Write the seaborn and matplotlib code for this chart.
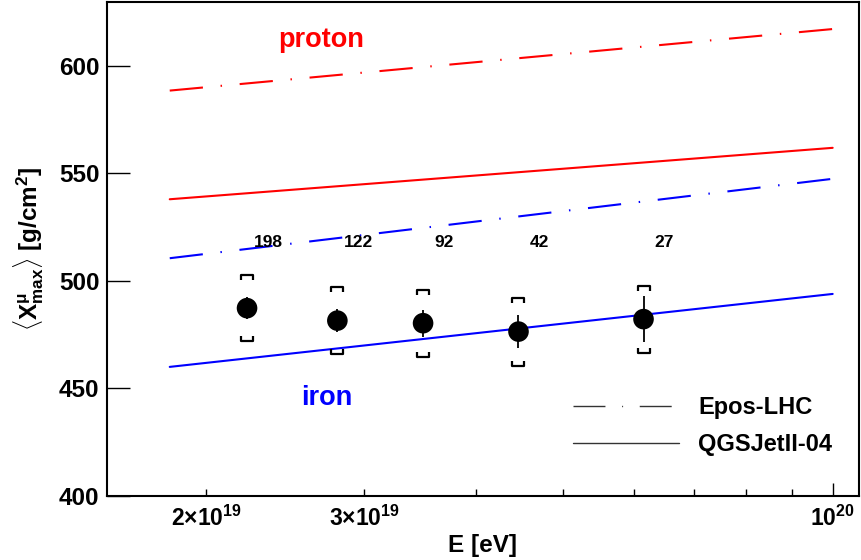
import numpy as np
import pandas as pd
import matplotlib
matplotlib.use("Agg")
import matplotlib.pyplot as plt
import seaborn as sns
from matplotlib.path import Path
from matplotlib.lines import Line2D
from matplotlib.ticker import FixedLocator, FixedFormatter

# ---------------- data ----------------
energy = [2.22e19, 2.80e19, 3.49e19, 4.46e19, 6.15e19]
xmax_mu = [487.3, 481.5, 480.3, 476.4, 482.2]
stat_err = [5.1, 5.3, 6.3, 7.5, 10.8]
sys_up = [502.7, 497.3, 495.5, 491.9, 497.6]
sys_low = [472.1, 466.0, 464.5, 460.4, 466.4]
n_events = [198, 122, 92, 42, 27]
count_y = 517.6

line_energy = [1.82e19, 1.0e20]
proton_epos = [588.4, 617.0]
proton_qgs = [537.9, 561.8]
iron_epos = [510.5, 547.4]
iron_qgs = [460.0, 493.9]

x_major = [1e20]
x_minor = [2e19, 3e19, 4e19, 5e19, 6e19, 7e19, 8e19, 9e19]
x_minor_labels = [r"$2{\times}10^{19}$", r"$3{\times}10^{19}$", "", "", "", "", "", ""]
x_major_labels = [r"$10^{20}$"]
y_ticks = [400, 450, 500, 550, 600]

# ---------------- style ----------------
sns.set_style("white")
plt.rcParams["font.family"] = ["Liberation Sans", "DejaVu Sans"]
plt.rcParams["font.weight"] = "bold"
plt.rcParams["mathtext.fontset"] = "custom"
plt.rcParams["mathtext.rm"] = "Liberation Sans:bold"
plt.rcParams["mathtext.bf"] = "Liberation Sans:bold"
plt.rcParams["mathtext.it"] = "Liberation Sans:bold"
plt.rcParams["mathtext.sf"] = "Liberation Sans:bold"
for k in ["text.color", "axes.labelcolor", "xtick.color", "ytick.color",
          "axes.edgecolor"]:
    plt.rcParams[k] = "black"

fig = plt.figure(figsize=(8.62, 5.60), dpi=100)
ax = fig.add_axes([107 / 862, 64 / 560, 752 / 862, 494.5 / 560])

rows = []
for comp, model, vals in [("proton", "Epos-LHC", proton_epos),
                          ("proton", "QGSJetII-04", proton_qgs),
                          ("iron", "Epos-LHC", iron_epos),
                          ("iron", "QGSJetII-04", iron_qgs)]:
    for e, v in zip(line_energy, vals):
        rows.append({"E": e, "X": v, "comp": comp, "model": model,
                     "key": comp + model})
df = pd.DataFrame(rows)

epos_dash = (16, 8.5, 0.7, 8.5)
sns.lineplot(data=df, x="E", y="X", hue="comp", style="model", units="key",
             estimator=None, palette={"proton": "#ff0000", "iron": "#0000ff"},
             dashes={"Epos-LHC": epos_dash, "QGSJetII-04": ""},
             linewidth=1.5, legend=False, ax=ax, zorder=2)

# statistical errors
ax.errorbar(energy, xmax_mu, yerr=stat_err, fmt="none", ecolor="black",
            elinewidth=1.3, capsize=0, zorder=3)

# systematic brackets as markers
top_bracket = Path([(-1, -0.8), (-1, 0), (1, 0), (1, -0.8)],
                   [Path.MOVETO, Path.LINETO, Path.LINETO, Path.LINETO])
bot_bracket = Path([(-1, 0.8), (-1, 0), (1, 0), (1, 0.8)],
                   [Path.MOVETO, Path.LINETO, Path.LINETO, Path.LINETO])
ax.plot(energy, sys_up, linestyle="none", marker=top_bracket, markersize=8.5,
        markerfacecolor="none", markeredgecolor="black", markeredgewidth=1.6,
        zorder=3)
ax.plot(energy, sys_low, linestyle="none", marker=bot_bracket, markersize=8.5,
        markerfacecolor="none", markeredgecolor="black", markeredgewidth=1.6,
        zorder=3)

pts = pd.DataFrame({"E": energy, "X": xmax_mu})
sns.scatterplot(data=pts, x="E", y="X", color="black", s=220, edgecolor="none",
                ax=ax, zorder=4, legend=False)

for e, n in zip(energy, n_events):
    ax.annotate(str(n), xy=(e, count_y), xytext=(21, 0), textcoords="offset pixels",
                ha="center", va="center", fontsize=12.5, fontweight="bold")

ax.text(0.2846, 0.9086, "proton", color="#ff0000", fontsize=19.5,
        fontweight="bold", ha="center", va="baseline", transform=ax.transAxes)
ax.text(0.2926, 0.184, "iron", color="#0000ff", fontsize=19.5,
        fontweight="bold", ha="center", va="baseline", transform=ax.transAxes)

# axes
ax.set_xscale("log")
ax.set_xlim(1.549e19, 1.07e20)
ax.set_ylim(400, 629.8)
ax.xaxis.set_major_locator(FixedLocator(x_major))
ax.xaxis.set_major_formatter(FixedFormatter(x_major_labels))
ax.xaxis.set_minor_locator(FixedLocator(x_minor))
ax.xaxis.set_minor_formatter(FixedFormatter(x_minor_labels))
ax.set_yticks(y_ticks)
ax.set_yticklabels([str(v) for v in y_ticks])

ax.tick_params(axis="x", which="major", direction="in", length=9.5, width=1.0,
               labelsize=16.5, pad=7, bottom=True, top=False)
ax.tick_params(axis="x", which="minor", direction="in", length=5, width=1.0,
               labelsize=16.5, pad=7, bottom=True, top=False)
ax.tick_params(axis="y", which="major", direction="in", length=16.5, width=1.0,
               labelsize=17.5, pad=5.5, left=True, right=False)
ax.tick_params(axis="y", which="minor", left=False, right=False)

for s in ax.spines.values():
    s.set_linewidth(1.5)
    s.set_color("black")

ax.set_xlabel("E [eV]", fontsize=17.5, fontweight="bold", labelpad=2)
ax.set_ylabel(r"$\langle\mathrm{X}^{\mu}_{\mathrm{max}}\rangle$ [g/cm$^{2}$]",
              fontsize=17.5, fontweight="bold", labelpad=9)

handles = [Line2D([], [], color="0.2", lw=1.0, dashes=(23, 12, 0.7, 12)),
           Line2D([], [], color="0.2", lw=1.0)]
ax.legend(handles, ["Epos-LHC", "QGSJetII-04"], loc="upper left",
          bbox_to_anchor=(0.6197, 0.202), frameon=False, borderpad=0,
          borderaxespad=0, handlelength=4.5, handletextpad=0.8,
          labelspacing=0.6, prop={"size": 17, "weight": "bold"})

fig.savefig("out.png", dpi=100)
